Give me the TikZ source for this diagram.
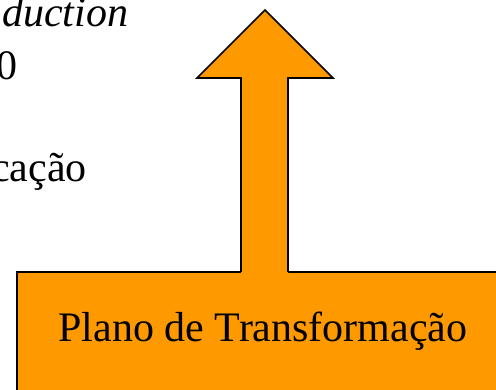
\documentclass[tikz,border=0pt]{standalone}
\usepackage{fontspec}
\setmainfont{Liberation Serif}
\usepackage{tikz}
\usetikzlibrary{positioning,shapes,arrows}

\definecolor{planorange}{RGB}{255,153,0}

\begin{document}
\begin{tikzpicture}[x=1pt, y=-1pt,
    bigtext/.style={font=\fontsize{42}{50}\selectfont, inner sep=0, anchor=base west},
    planobox/.style={draw, fill=planorange, line width=1.7pt, inner sep=0, minimum width=492pt,
                     text height=70pt, text depth=60pt, font=\fontsize{42}{50}\selectfont}]
    \useasboundingbox (0,0) rectangle (496,390);
    \clip (0,0) rectangle (496,390);

    % Cut-off text lines on the left
    \node (line1) [bigtext] at (2,27) {\textit{duction}};
    \node (line2) [bigtext] at (-4,80) {0};
    \node (line3) [bigtext] at (-9,182) {cação};

    % The box at the bottom
    \node (plano) [planobox, anchor=base] at (263,342) {Plano de Transformação};

    % Arrow rising out of the box
    \coordinate (tip) at (265,10);
    \fill[planorange] (241,275) -- (241,78) -- (197,78) -- (tip) -- (333,78) -- (288,78) -- (288,275) -- cycle;
    \draw[line width=1.7pt, line join=miter]
        (241,272) -- (241,78) -- (197,78) -- (tip) -- (333,78) -- (288,78) -- (288,272);
\end{tikzpicture}
\end{document}
